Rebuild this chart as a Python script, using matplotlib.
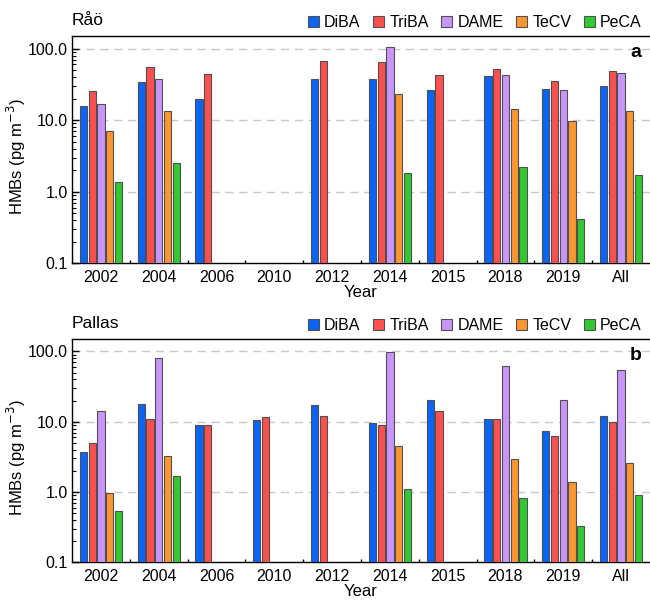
import numpy as np
import matplotlib
matplotlib.use('Agg')
from matplotlib import pyplot, ticker, patches

pyplot.rcParams['font.family'] = ['Liberation Sans', 'DejaVu Sans']

years = ['2002', '2004', '2006', '2010', '2012', '2014', '2015', '2018', '2019', 'All']
compounds = ['DiBA', 'TriBA', 'DAME', 'TeCV', 'PeCA']
colors = ['#0a64f5', '#ff5050', '#c896fa', '#ff9632', '#32c832']
nan = np.nan

# Raao, pg m-3
raao_diba = [15.6, 34.6, 20.0, nan, 37.8, 38.1, 26.5, 41.6, 27.4, 30.4]
raao_triba = [25.9, 56.1, 44.4, nan, 68.1, 64.5, 43.0, 52.1, 35.7, 49.3]
raao_dame = [16.6, 37.8, nan, nan, nan, 104.7, nan, 42.4, 26.5, 45.8]
raao_tecv = [7.06, 13.6, nan, nan, nan, 23.3, nan, 14.4, 9.75, 13.5]
raao_peca = [1.38, 2.54, nan, nan, nan, 1.82, nan, 2.21, 0.413, 1.69]

# Pallas, pg m-3
pallas_diba = [3.65, 17.6, 9.1, 10.4, 17.3, 9.53, 20.2, 10.9, 7.26, 11.9]
pallas_triba = [4.90, 11.1, 9.1, 11.5, 12.2, 8.83, 14.4, 11.0, 6.16, 9.84]
pallas_dame = [14.4, 80.5, nan, nan, nan, 98.1, nan, 61.4, 20.2, 55.1]
pallas_tecv = [0.964, 3.24, nan, nan, nan, 4.49, nan, 2.90, 1.37, 2.60]
pallas_peca = [0.53, 1.67, nan, nan, nan, 1.09, nan, 0.81, 0.325, 0.895]

yticks = [0.1, 1, 10, 100]
ytick_labels = ['0.1', '1.0', '10.0', '100.0']


def draw_panel(ax, site, letter, series):
    x = np.arange(len(years))
    width = 0.125
    step = 0.152
    ax.set_yscale('log')
    for i, vals in enumerate(series):
        ax.bar(x + (i - 2) * step, vals, width, color=colors[i],
               edgecolor='#505050', linewidth=0.8, zorder=3)

    ax.set_ylim(0.1, 150)
    ax.set_xlim(-0.5, len(years) - 0.5)
    ax.set_yticks(yticks)
    ax.set_yticklabels(ytick_labels)
    ax.yaxis.set_minor_locator(ticker.LogLocator(base=10, subs=np.arange(2, 10)))
    ax.yaxis.set_minor_formatter(ticker.NullFormatter())
    ax.set_xticks(x)
    ax.set_xticklabels(years)
    ax.set_xticks(x[:-1] + 0.5, minor=True)
    ax.tick_params(axis='x', which='major', length=0, pad=5, labelsize=11.5)
    ax.tick_params(axis='x', which='minor', direction='in', length=2.5, width=1)
    ax.tick_params(axis='y', which='major', direction='in', length=5, width=1, labelsize=11.5, pad=3)
    ax.tick_params(axis='y', which='minor', direction='in', length=3, width=0.8)

    for v in yticks[1:]:
        ax.axhline(v, color='#c8c8c8', linestyle=(0, (6, 4)), linewidth=1, zorder=1)

    ax.spines['right'].set_visible(False)
    for s in ['left', 'top', 'bottom']:
        ax.spines[s].set_linewidth(1)

    ax.set_xlabel('Year', fontsize=12, labelpad=0)
    ax.set_ylabel('HMBs (pg m$^{-3}$)', fontsize=12)
    # label anchor is its right edge once rotated
    ax.yaxis.set_label_coords(-44 / 578, 0.47)
    ax.text(0.0, 1.035, site, transform=ax.transAxes, fontsize=12.5, ha='left', va='bottom')
    ax.text(0.985, 0.965, letter, transform=ax.transAxes, fontsize=14, fontweight='bold',
            ha='right', va='top')

    handles = [patches.Patch(facecolor=c, edgecolor='#505050', linewidth=0.8) for c in colors]
    ax.legend(handles, compounds, loc='lower right', bbox_to_anchor=(0.995, 1.0), ncol=5,
              frameon=False, fontsize=11.5, handlelength=0.7, handleheight=0.7,
              handletextpad=0.3, columnspacing=0.8, borderaxespad=0.15, borderpad=0.2)


fig = pyplot.figure(figsize=(6.5, 6.01), dpi=100)
ax1 = fig.add_axes([72 / 650, 1 - 263.3 / 601, 578 / 650, 227.3 / 601])
ax2 = fig.add_axes([72 / 650, 1 - 562.3 / 601, 578 / 650, 223.3 / 601])

draw_panel(ax1, 'Råö', 'a', [raao_diba, raao_triba, raao_dame, raao_tecv, raao_peca])
draw_panel(ax2, 'Pallas', 'b', [pallas_diba, pallas_triba, pallas_dame, pallas_tecv, pallas_peca])

fig.savefig('out.png', dpi=100)
